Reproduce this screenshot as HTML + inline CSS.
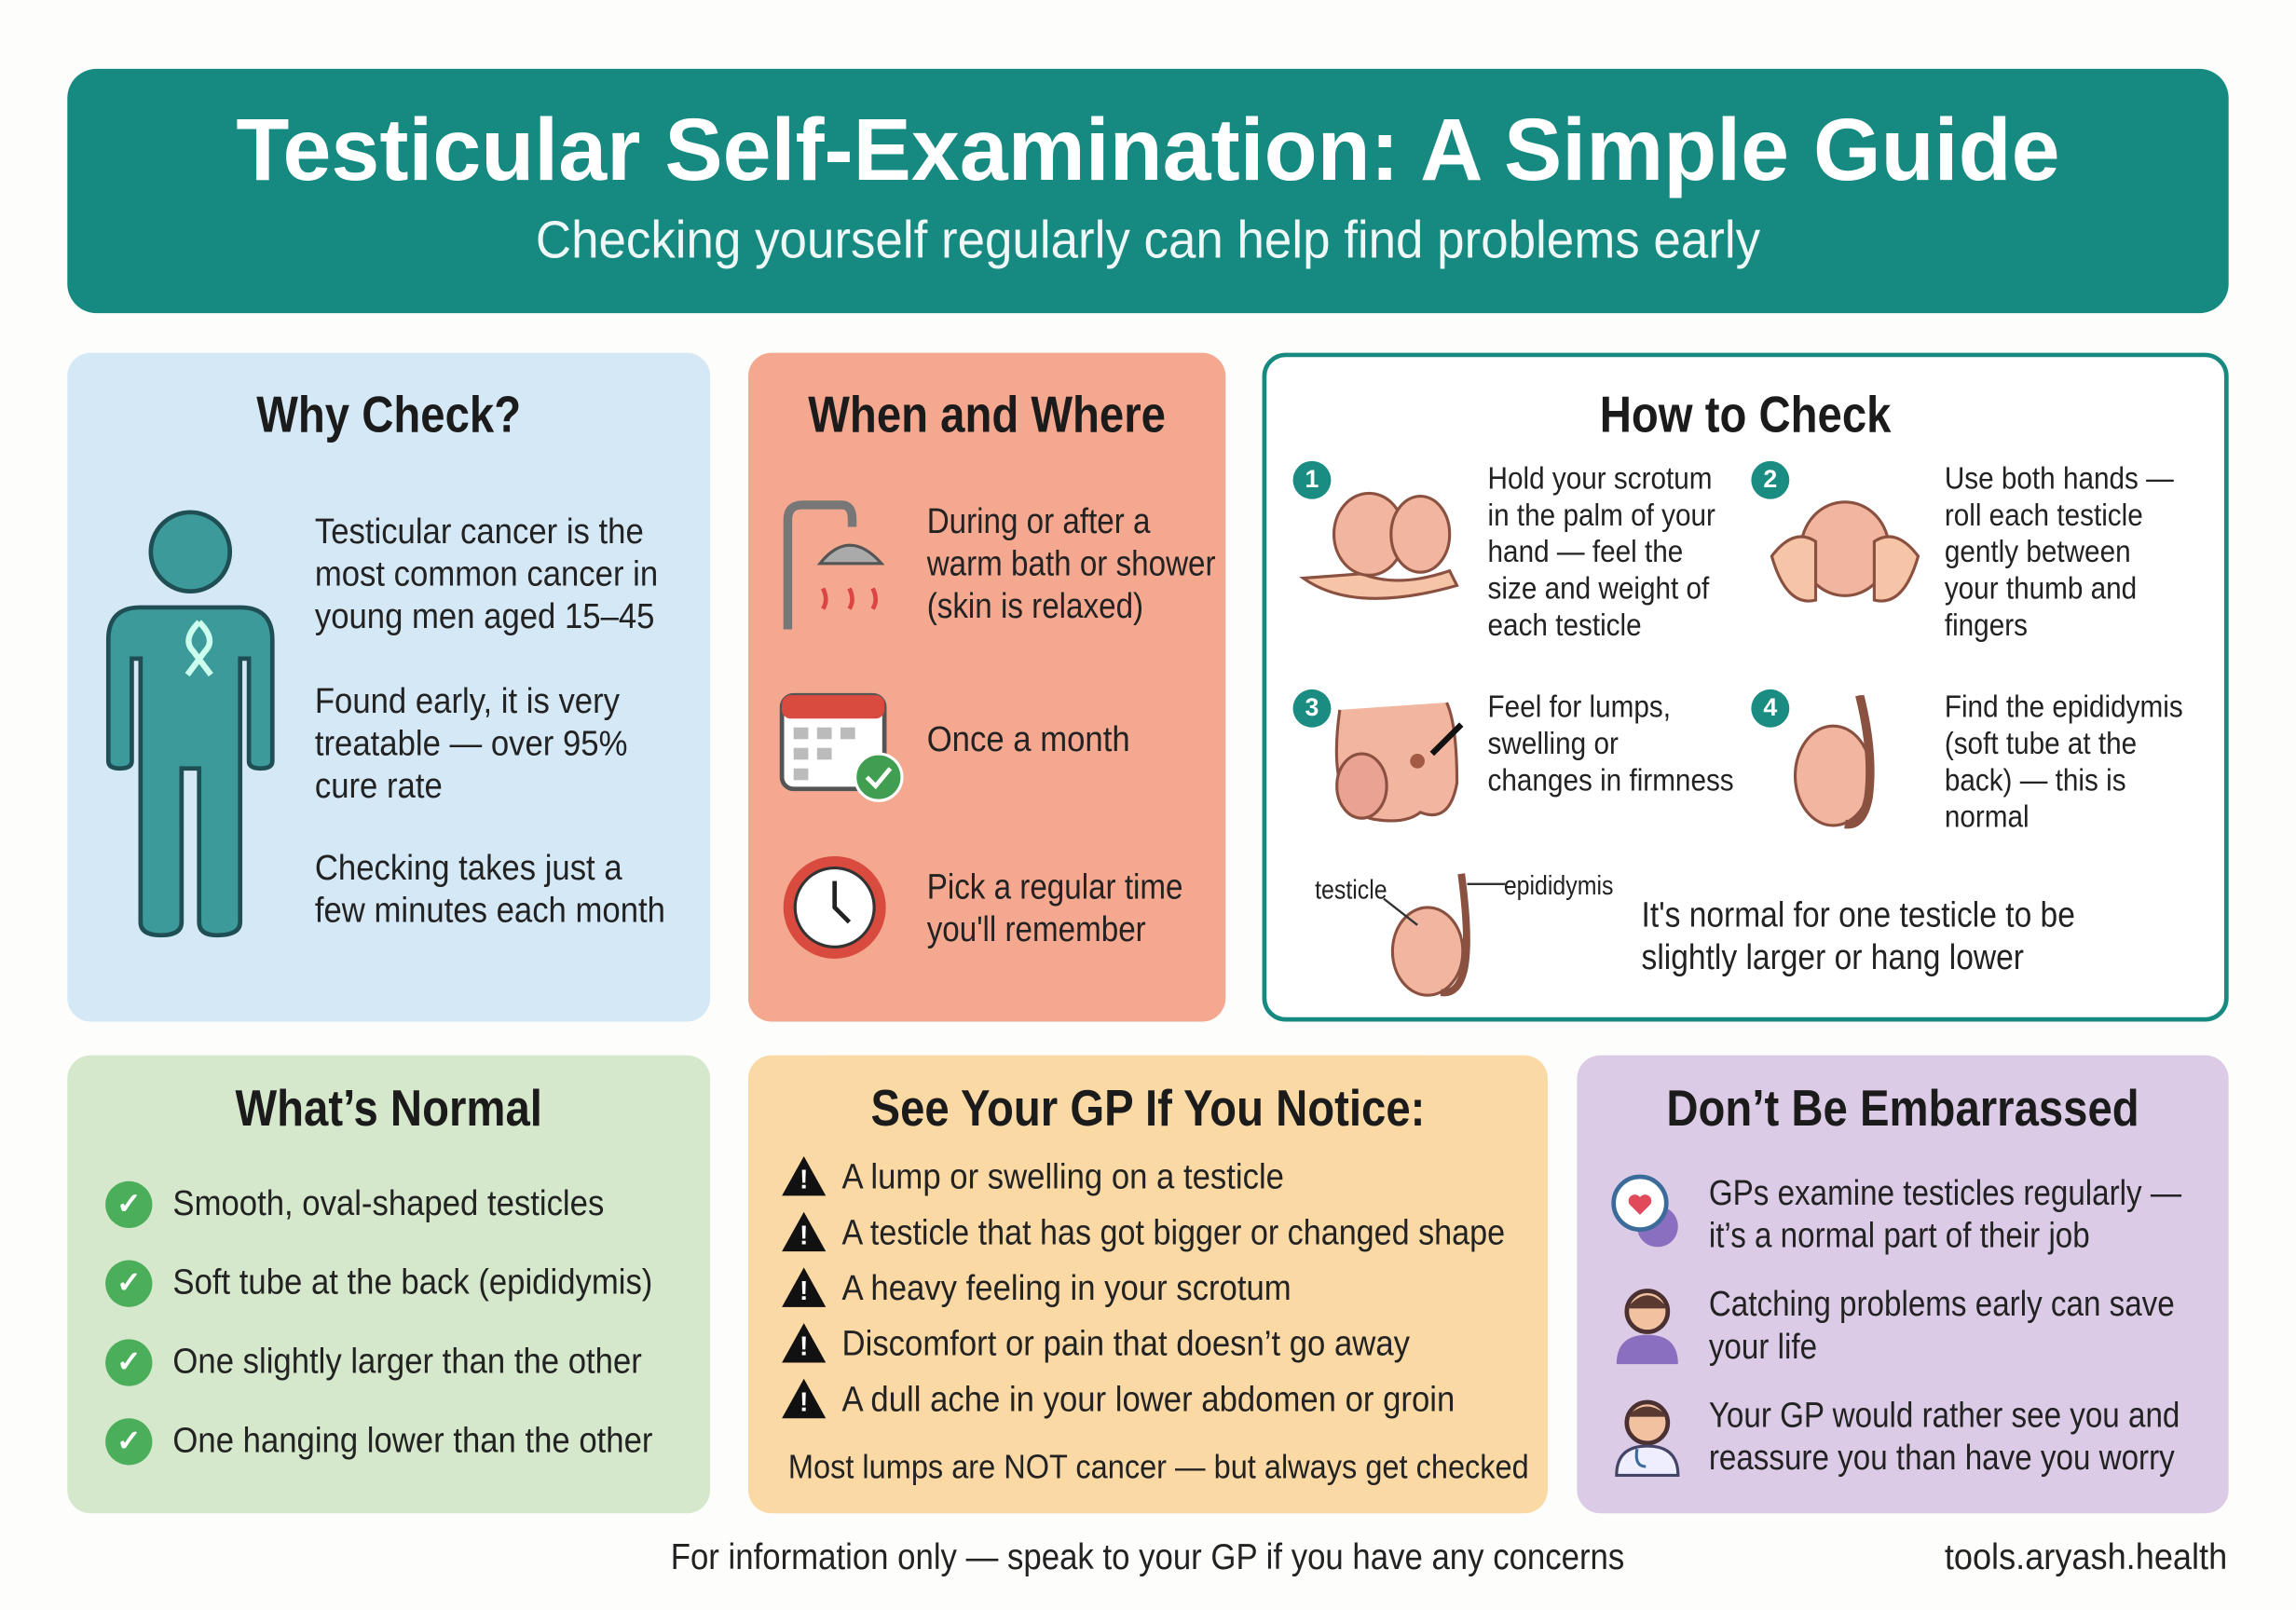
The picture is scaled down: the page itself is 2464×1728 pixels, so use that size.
<!DOCTYPE html>
<html><head><meta charset="utf-8">
<style>
html,body{margin:0;padding:0;background:#fdfdfc;}
#root{position:relative;width:1568px;height:1100px;transform:scale(1.5714,1.5709);transform-origin:0 0;font-family:"Liberation Sans",sans-serif;color:#222;overflow:hidden;}
.a{position:absolute;white-space:nowrap;}
.panel{position:absolute;border-radius:16px;}
.h{position:absolute;font-weight:bold;font-size:35px;text-align:center;color:#1b1b1b;transform:scaleX(.86);transform-origin:50% 0;white-space:nowrap;}
.t{position:absolute;font-size:24px;line-height:29px;color:#222;transform:scaleX(.92);transform-origin:0 0;white-space:nowrap;}
.s{position:absolute;font-size:21px;line-height:25px;color:#222;transform:scaleX(.9);transform-origin:0 0;white-space:nowrap;}
.num{position:absolute;width:26px;height:26px;border-radius:50%;background:#1a8c82;color:#fff;font-size:17px;font-weight:bold;text-align:center;line-height:26px;}
.chk{position:absolute;width:32px;height:32px;border-radius:50%;background:#4aae5a;color:#fff;text-align:center;line-height:32px;font-size:20px;font-weight:bold;}
.warn{position:absolute;width:0;height:0;border-left:15px solid transparent;border-right:15px solid transparent;border-bottom:27px solid #111;}
.warn:after{content:"!";position:absolute;left:-3px;top:6px;color:#fff;font-size:18px;font-weight:bold;}
</style></head><body><div id="root">

<div class="panel" style="left:46px;top:47px;width:1476px;height:167px;background:#168a80;border-radius:20px;"></div>
<div class="a" style="left:46px;top:68px;width:1476px;text-align:center;color:#fff;font-weight:bold;font-size:60px;transform:scaleX(.99);transform-origin:50% 0;">Testicular Self-Examination: A Simple Guide</div>
<div class="a" style="left:46px;top:143px;width:1476px;text-align:center;color:#eef8f6;font-size:36px;transform:scaleX(.935);transform-origin:50% 0;">Checking yourself regularly can help find problems early</div>

<!-- Why Check -->
<div class="panel" style="left:46px;top:241px;width:439px;height:457px;background:#d5e8f6;"></div>
<div class="h" style="left:46px;top:264px;width:439px;">Why Check?</div>
<svg class="a" style="left:66px;top:345px" width="130" height="300" viewBox="0 0 130 300">
<circle cx="64" cy="32" r="27" fill="#3d9a9a" stroke="#1f4f55" stroke-width="3"/>
<path d="M30 70 H98 Q120 70 120 92 V175 Q120 180 112 180 Q104 180 104 175 V105 H98 V285 Q98 294 82 294 Q70 294 70 285 V180 H58 V285 Q58 294 44 294 Q30 294 30 285 V105 H24 V175 Q24 180 16 180 Q8 180 8 175 V92 Q8 70 30 70Z" fill="#3d9a9a" stroke="#1f4f55" stroke-width="3"/>
<path d="M70 80 Q58 92 66 100 L78 116 M70 80 Q82 92 74 100 L62 116" fill="none" stroke="#cfe" stroke-width="4"/>
</svg>
<div class="t" style="left:215px;top:349px;">Testicular cancer is the<br>most common cancer in<br>young men aged 15–45</div>
<div class="t" style="left:215px;top:465px;">Found early, it is very<br>treatable — over 95%<br>cure rate</div>
<div class="t" style="left:215px;top:579px;">Checking takes just a<br>few minutes each month</div>

<!-- When and Where -->
<div class="panel" style="left:511px;top:241px;width:326px;height:457px;background:#f4a88f;"></div>
<div class="h" style="left:511px;top:264px;width:326px;">When and Where</div>
<svg class="a" style="left:530px;top:340px" width="85" height="95">
<path d="M8 90 V15 Q8 5 18 5 H45 Q52 5 52 15 V20" fill="none" stroke="#777" stroke-width="6"/>
<path d="M30 45 Q50 20 72 45Z" fill="#aaa" stroke="#555" stroke-width="2"/>
<path d="M32 62 q4 8 0 14 M50 62 q4 8 0 14 M66 62 q4 8 0 14" stroke="#d44" stroke-width="3" fill="none"/>
</svg>
<div class="t" style="left:633px;top:342px;transform:scaleX(.88);">During or after a<br>warm bath or shower<br>(skin is relaxed)</div>
<svg class="a" style="left:530px;top:465px" width="92" height="85">
<rect x="4" y="10" width="70" height="64" rx="8" fill="#fff" stroke="#555" stroke-width="3"/>
<rect x="4" y="10" width="70" height="16" rx="6" fill="#d94b3f"/>
<g fill="#bbb"><rect x="12" y="32" width="10" height="8"/><rect x="28" y="32" width="10" height="8"/><rect x="44" y="32" width="10" height="8"/><rect x="12" y="46" width="10" height="8"/><rect x="28" y="46" width="10" height="8"/><rect x="12" y="60" width="10" height="8"/></g>
<circle cx="70" cy="66" r="16" fill="#3f9e4f" stroke="#fff" stroke-width="2"/>
<path d="M62 66 l6 6 l10 -12" stroke="#fff" stroke-width="3" fill="none"/>
</svg>
<div class="t" style="left:633px;top:491px;">Once a month</div>
<svg class="a" style="left:530px;top:582px" width="80" height="80">
<circle cx="40" cy="38" r="35" fill="#d94b3f"/><circle cx="40" cy="38" r="27" fill="#fff" stroke="#333" stroke-width="2"/>
<path d="M40 20 V38 L50 48" stroke="#222" stroke-width="3" fill="none"/>
</svg>
<div class="t" style="left:633px;top:592px;transform:scaleX(.88);">Pick a regular time<br>you'll remember</div>

<!-- How to Check -->
<div class="panel" style="left:862px;top:241px;width:654px;height:451px;background:#fff;border:3px solid #168a80;"></div>
<div class="h" style="left:862px;top:264px;width:660px;">How to Check</div>
<div class="num" style="left:883px;top:315px;">1</div>
<svg class="a" style="left:885px;top:320px" width="120" height="105"><path d="M5 75 Q40 100 110 80 L105 70 Q70 82 45 72 Z" fill="#f6c5a8" stroke="#8a5040" stroke-width="2"/><ellipse cx="50" cy="45" rx="24" ry="28" fill="#f2b6a0" stroke="#8a5040" stroke-width="2"/><ellipse cx="85" cy="45" rx="20" ry="26" fill="#f2b6a0" stroke="#8a5040" stroke-width="2"/></svg>
<div class="s" style="left:1016px;top:315px;">Hold your scrotum<br>in the palm of your<br>hand — feel the<br>size and weight of<br>each testicle</div>
<div class="num" style="left:1196px;top:315px;">2</div>
<svg class="a" style="left:1205px;top:320px" width="110" height="105"><ellipse cx="55" cy="55" rx="30" ry="32" fill="#f2b6a0" stroke="#8a5040" stroke-width="2"/><path d="M5 60 Q20 40 35 50 L35 90 Q15 95 5 60Z M105 60 Q90 40 75 50 L75 90 Q95 95 105 60Z" fill="#f6c5a8" stroke="#8a5040" stroke-width="2"/></svg>
<div class="s" style="left:1328px;top:315px;">Use both hands —<br>roll each testicle<br>gently between<br>your thumb and<br>fingers</div>
<div class="num" style="left:883px;top:471px;">3</div>
<svg class="a" style="left:900px;top:475px" width="110" height="95"><path d="M15 10 Q5 80 40 85 Q60 88 70 80 Q90 88 95 60 Q95 20 88 5" fill="#f2b6a0" stroke="#8a5040" stroke-width="2"/><ellipse cx="30" cy="62" rx="17" ry="22" fill="#eaa392" stroke="#8a5040" stroke-width="2"/><circle cx="68" cy="45" r="5" fill="#a35a44"/><path d="M98 20 L78 40" stroke="#111" stroke-width="4"/></svg>
<div class="s" style="left:1016px;top:471px;">Feel for lumps,<br>swelling or<br>changes in firmness</div>
<div class="num" style="left:1196px;top:471px;">4</div>
<svg class="a" style="left:1220px;top:475px" width="80" height="95"><ellipse cx="32" cy="55" rx="26" ry="34" fill="#f2b6a0" stroke="#8a5040" stroke-width="2"/><path d="M50 0 Q60 40 56 70 Q52 90 40 88" fill="none" stroke="#8a5040" stroke-width="6"/></svg>
<div class="s" style="left:1328px;top:471px;">Find the epididymis<br>(soft tube at the<br>back) — this is<br>normal</div>
<div class="a" style="left:898px;top:598px;font-size:18px;transform:scaleX(.88);transform-origin:0 0;">testicle</div>
<div class="a" style="left:1027px;top:595px;font-size:18px;transform:scaleX(.88);transform-origin:0 0;">epididymis</div>
<svg class="a" style="left:940px;top:592px" width="90" height="92"><ellipse cx="35" cy="58" rx="24" ry="30" fill="#f2b6a0" stroke="#8a5040" stroke-width="2"/><path d="M58 5 Q64 50 60 70 Q56 88 44 86" fill="none" stroke="#8a5040" stroke-width="5"/><path d="M5 22 L28 40 M62 12 H88" stroke="#333" stroke-width="1.5"/></svg>
<div class="t" style="left:1121px;top:611px;transform:scaleX(.89);">It's normal for one testicle to be<br>slightly larger or hang lower</div>

<!-- What's Normal -->
<div class="panel" style="left:46px;top:721px;width:439px;height:313px;background:#d5e8cb;"></div>
<div class="h" style="left:46px;top:738px;width:439px;">What’s Normal</div>
<div class="chk" style="left:72px;top:807px;">✓</div><div class="t" style="left:118px;top:808px;">Smooth, oval-shaped testicles</div>
<div class="chk" style="left:72px;top:861px;">✓</div><div class="t" style="left:118px;top:862px;">Soft tube at the back (epididymis)</div>
<div class="chk" style="left:72px;top:915px;">✓</div><div class="t" style="left:118px;top:916px;">One slightly larger than the other</div>
<div class="chk" style="left:72px;top:969px;">✓</div><div class="t" style="left:118px;top:970px;">One hanging lower than the other</div>

<!-- See GP -->
<div class="panel" style="left:511px;top:721px;width:546px;height:313px;background:#fbd9a5;"></div>
<div class="h" style="left:511px;top:738px;width:546px;">See Your GP If You Notice:</div>
<div class="warn" style="left:534px;top:790px;"></div><div class="t" style="left:575px;top:790px;">A lump or swelling on a testicle</div>
<div class="warn" style="left:534px;top:828px;"></div><div class="t" style="left:575px;top:828px;transform:scaleX(.905);">A testicle that has got bigger or changed shape</div>
<div class="warn" style="left:534px;top:866px;"></div><div class="t" style="left:575px;top:866px;">A heavy feeling in your scrotum</div>
<div class="warn" style="left:534px;top:904px;"></div><div class="t" style="left:575px;top:904px;">Discomfort or pain that doesn’t go away</div>
<div class="warn" style="left:534px;top:942px;"></div><div class="t" style="left:575px;top:942px;">A dull ache in your lower abdomen or groin</div>
<div class="a" style="left:511px;top:989px;width:546px;text-align:center;font-size:23px;transform:scaleX(.9);transform-origin:50% 0;">Most lumps are NOT cancer — but always get checked</div>

<!-- Don't Be Embarrassed -->
<div class="panel" style="left:1077px;top:721px;width:445px;height:313px;background:#dccbe6;"></div>
<div class="h" style="left:1077px;top:738px;width:445px;">Don’t Be Embarrassed</div>
<svg class="a" style="left:1098px;top:800px" width="55" height="55"><circle cx="34" cy="38" r="14" fill="#8a6fc0"/><circle cx="22" cy="22" r="18" fill="#fff" stroke="#3a6b9a" stroke-width="3"/><path d="M22 30 l-7-7 a4 4 0 0 1 7-5 a4 4 0 0 1 7 5z" fill="#e04a5a"/></svg>
<div class="t" style="left:1167px;top:801px;transform:scaleX(.88);">GPs examine testicles regularly —<br>it’s a normal part of their job</div>
<svg class="a" style="left:1100px;top:876px" width="50" height="58"><circle cx="25" cy="20" r="14" fill="#f2c2a0" stroke="#4a3030" stroke-width="3"/><path d="M11 18 Q25 0 39 18" fill="#5a3a30"/><path d="M4 56 Q4 36 25 36 Q46 36 46 56Z" fill="#8a6fc0"/></svg>
<div class="t" style="left:1167px;top:877px;transform:scaleX(.88);">Catching problems early can save<br>your life</div>
<svg class="a" style="left:1100px;top:952px" width="50" height="58"><circle cx="25" cy="20" r="14" fill="#f2c2a0" stroke="#4a3030" stroke-width="3"/><path d="M11 16 Q25 2 39 16" fill="#5a3a30"/><path d="M4 56 Q4 36 25 36 Q46 36 46 56Z" fill="#eef" stroke="#446" stroke-width="2"/><path d="M18 38 Q16 50 24 50" stroke="#3a6b9a" stroke-width="2" fill="none"/></svg>
<div class="t" style="left:1167px;top:953px;transform:scaleX(.88);">Your GP would rather see you and<br>reassure you than have you worry</div>

<div class="a" style="left:458px;top:1050px;font-size:25px;transform:scaleX(.885);transform-origin:0 0;">For information only — speak to your GP if you have any concerns</div>
<div class="a" style="left:1328px;top:1050px;font-size:25px;transform:scaleX(.92);transform-origin:0 0;">tools.aryash.health</div>

</div></body></html>
